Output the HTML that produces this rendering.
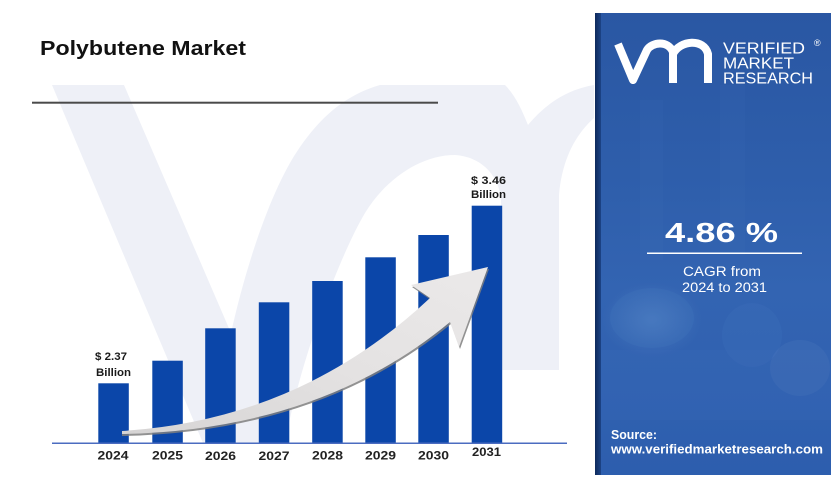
<!DOCTYPE html>
<html>
<head>
<meta charset="utf-8">
<style>
  html,body{margin:0;padding:0;background:#ffffff;}
  body{width:836px;height:479px;overflow:hidden;}
  svg{display:block;}
  text{font-family:"Liberation Sans", Arial, sans-serif;}
</style>
</head>
<body>
<svg width="836" height="479" viewBox="0 0 836 479" xmlns="http://www.w3.org/2000/svg">
  <defs>
    <linearGradient id="panelBg" x1="0" y1="0" x2="0" y2="1">
      <stop offset="0" stop-color="#2a57a3"/>
      <stop offset="0.35" stop-color="#2e5eab"/>
      <stop offset="0.6" stop-color="#3364b2"/>
      <stop offset="1" stop-color="#2d5eae"/>
    </linearGradient>
    <linearGradient id="stripe" x1="0" y1="0" x2="1" y2="0">
      <stop offset="0" stop-color="#0e2a5c"/>
      <stop offset="1" stop-color="#1c4385"/>
    </linearGradient>
    <linearGradient id="arrowFill" x1="0" y1="1" x2="1" y2="0">
      <stop offset="0" stop-color="#d6d4d4"/>
      <stop offset="0.5" stop-color="#e4e2e2"/>
      <stop offset="1" stop-color="#ebe9e9"/>
    </linearGradient>
    <radialGradient id="glow" cx="0.5" cy="0.5" r="0.5">
      <stop offset="0" stop-color="#7fa9df" stop-opacity="0.25"/>
      <stop offset="1" stop-color="#7fa9df" stop-opacity="0"/>
    </radialGradient>
  </defs>

  <!-- watermark -->
  <path d="M 52 85 L 124 85 L 231 333 C 245 270, 270 190, 300 147 C 320 118, 345 95, 380 85 L 505 85 C 515 95, 522 110, 528 125 C 545 105, 565 90, 594 85 L 594 118 C 575 135, 562 160, 559 195 L 559 370 L 501 370 L 501 200 C 500 180, 485 157, 455 155 C 420 155, 385 180, 365 213 C 340 255, 300 360, 285 443 L 203 443 Z" fill="#eef0f7"/>

  <!-- title -->
  <text x="40" y="55" font-size="20" font-weight="bold" fill="#111111" textLength="206" lengthAdjust="spacingAndGlyphs">Polybutene Market</text>
  <rect x="32" y="101.7" width="406" height="2" fill="#4a4a4a"/>

  <!-- bars -->
  <g fill="#0b46a9">
    <rect x="98.3" y="383.3" width="30.5" height="60"/>
    <rect x="152.3" y="360.7" width="30.5" height="82.6"/>
    <rect x="205.2" y="328.3" width="30.5" height="115"/>
    <rect x="258.8" y="302.3" width="30.5" height="141"/>
    <rect x="312.2" y="281" width="30.5" height="162.3"/>
    <rect x="365.3" y="257.3" width="30.5" height="186"/>
    <rect x="418.3" y="235" width="30.5" height="208.3"/>
    <rect x="471.7" y="205.7" width="30.5" height="237.6"/>
  </g>

  <!-- axis -->
  <rect x="52" y="442.5" width="515" height="1.5" fill="#4b6cc0"/>

  <!-- arrow shadow + arrow -->
  <path d="M 122 433 Q 300 422 431 300 L 412 287 L 489 269 L 460 349 L 451 324 Q 320 432 122 436 Z" fill="#7f7f7f" opacity="0.85"/>
  <path d="M 122 431 Q 300 420 430 298 L 411 285 L 488 267 L 459 347 L 450 322 Q 320 430 122 434 Z" fill="url(#arrowFill)"/>

  <!-- value labels -->
  <g font-size="11" font-weight="bold" fill="#1a1a1a">
    <text x="95" y="360" textLength="32" lengthAdjust="spacingAndGlyphs">$ 2.37</text>
    <text x="96" y="376" textLength="35" lengthAdjust="spacingAndGlyphs">Billion</text>
    <text x="471" y="184" textLength="35" lengthAdjust="spacingAndGlyphs">$ 3.46</text>
    <text x="471" y="198" textLength="35" lengthAdjust="spacingAndGlyphs">Billion</text>
  </g>

  <!-- year labels -->
  <g font-size="12" font-weight="bold" fill="#222222">
    <text x="97.5" y="459.5" textLength="31" lengthAdjust="spacingAndGlyphs">2024</text>
    <text x="152" y="459.5" textLength="31" lengthAdjust="spacingAndGlyphs">2025</text>
    <text x="205" y="460" textLength="31" lengthAdjust="spacingAndGlyphs">2026</text>
    <text x="258.5" y="460" textLength="31" lengthAdjust="spacingAndGlyphs">2027</text>
    <text x="312" y="459.5" textLength="31" lengthAdjust="spacingAndGlyphs">2028</text>
    <text x="365" y="459.5" textLength="31" lengthAdjust="spacingAndGlyphs">2029</text>
    <text x="418" y="459.5" textLength="31" lengthAdjust="spacingAndGlyphs">2030</text>
    <text x="472" y="456" textLength="29" lengthAdjust="spacingAndGlyphs">2031</text>
  </g>

  <!-- right panel -->
  <rect x="595" y="13" width="236" height="462" fill="url(#panelBg)"/>
  <rect x="595" y="13" width="6" height="462" fill="url(#stripe)"/>

  <!-- faint photo elements -->
  <g>
    <rect x="640" y="100" width="23" height="160" fill="#5a88cc" opacity="0.06"/>
    <rect x="720" y="85" width="25" height="170" fill="#5a88cc" opacity="0.06"/>
    <ellipse cx="652" cy="320" rx="50" ry="38" fill="url(#glow)"/>
    <ellipse cx="652" cy="318" rx="42" ry="30" fill="#6aa0dc" opacity="0.08"/>
    <ellipse cx="752" cy="335" rx="30" ry="32" fill="#6aa0dc" opacity="0.07"/>
    <ellipse cx="800" cy="368" rx="30" ry="28" fill="#9fb4e0" opacity="0.07"/>
    <rect x="601" y="350" width="230" height="70" fill="#5d8fd4" opacity="0.05"/>
  </g>

  <!-- logo -->
  <path d="M 618 44 L 633 80 L 647 50 C 652 42, 668 40, 673 52 L 673 83 M 673 54 C 680 40, 704 38, 708 54 L 708 83" fill="none" stroke="#ffffff" stroke-width="8" stroke-linejoin="round"/>
  <g fill="#ffffff" font-size="15.5">
    <text x="723" y="53.3" textLength="82" lengthAdjust="spacingAndGlyphs">VERIFIED</text>
    <text x="723" y="68.5" textLength="71" lengthAdjust="spacingAndGlyphs">MARKET</text>
    <text x="723" y="83.3" textLength="90" lengthAdjust="spacingAndGlyphs">RESEARCH</text>
    <text x="814" y="46" font-size="9">®</text>
  </g>

  <!-- CAGR -->
  <text x="665" y="242" font-size="28" font-weight="bold" fill="#ffffff" textLength="113" lengthAdjust="spacingAndGlyphs">4.86 %</text>
  <rect x="647" y="252.5" width="155" height="1.5" fill="#ffffff"/>
  <text x="683" y="276" font-size="13.5" fill="#ffffff" textLength="78" lengthAdjust="spacingAndGlyphs">CAGR from</text>
  <text x="682" y="292" font-size="13.5" fill="#ffffff" textLength="85" lengthAdjust="spacingAndGlyphs">2024 to 2031</text>

  <!-- source -->
  <text x="611" y="439" font-size="12.5" font-weight="bold" fill="#ffffff" textLength="46" lengthAdjust="spacingAndGlyphs">Source:</text>
  <text x="611" y="453.5" font-size="12.5" font-weight="bold" fill="#ffffff" textLength="212" lengthAdjust="spacingAndGlyphs">www.verifiedmarketresearch.com</text>
</svg>
</body>
</html>
